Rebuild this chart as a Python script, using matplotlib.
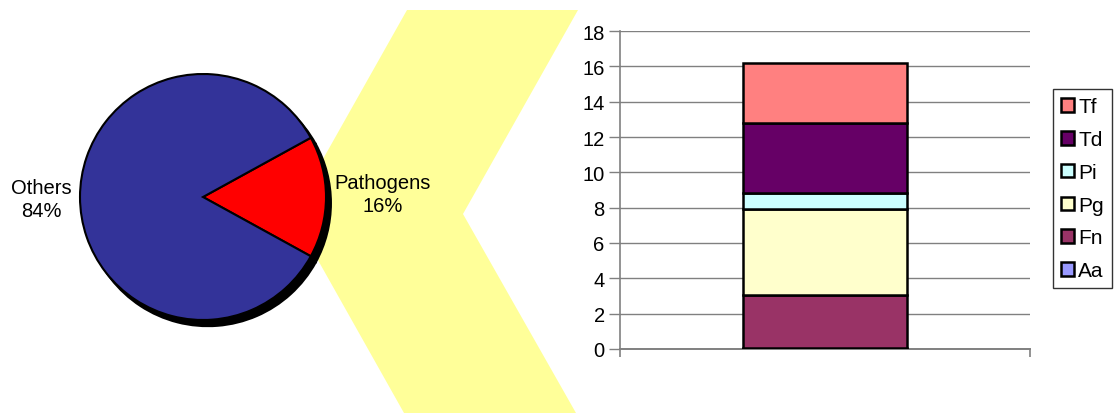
import matplotlib
matplotlib.use("Agg")
import matplotlib.pyplot as plt
from matplotlib.patches import Polygon, Patch

plt.rcParams['font.family'] = ['Liberation Sans', 'DejaVu Sans']

# ---- data ----
pie_labels = ["Pathogens", "Others"]
pie_values = [16, 84]
pie_colors = ["#FF0000", "#333399"]

species = ["Aa", "Fn", "Pg", "Pi", "Td", "Tf"]
species_values = [0.05, 3.0, 4.85, 0.95, 3.92, 3.42]
species_colors = ["#9999FF", "#993366", "#FFFFCC", "#CCFFFF", "#660066", "#FF8080"]
yticks = [0, 2, 4, 6, 8, 10, 12, 14, 16, 18]

W, H = 1117, 414
fig = plt.figure(figsize=(W / 100, H / 100), dpi=100)

# background axes in pixel coordinates (chevron + labels)
bg = fig.add_axes([0, 0, 1, 1])
bg.set_xlim(0, W)
bg.set_ylim(H, 0)
bg.axis('off')
chevron = Polygon([(407, 11), (578, 11), (463, 215), (576, 414), (404, 414), (292, 215)],
                  closed=True, facecolor="#FFFF99", edgecolor="none")
bg.add_patch(chevron)

# pie axes
cx, cy, r = 203, 198, 123
box = 150
pax = fig.add_axes([(cx - box) / W, (H - cy - box) / H, 2 * box / W, 2 * box / H])
pax.set_xlim(-box / r, box / r)
pax.set_ylim(-box / r, box / r)
pax.set_aspect('equal')
pax.axis('off')
start = -pie_values[0] / sum(pie_values) * 360 / 2
# shadow
pax.pie(pie_values, colors=["black"] * len(pie_values), startangle=start,
        center=(0.04, -0.05), radius=1.0,
        wedgeprops=dict(edgecolor="black", linewidth=1.5))
pax.pie(pie_values, colors=pie_colors, startangle=start, radius=1.0,
        wedgeprops=dict(edgecolor="black", linewidth=1.5))
pax.set_xlim(-box / r, box / r)
pax.set_ylim(-box / r, box / r)

# pie labels
label_pos = [(383, 195), (41, 200)]
for (lx, ly), lab, val in zip(label_pos, pie_labels, pie_values):
    bg.text(lx, ly, f"{lab}\n{val}%", ha="center", va="center", fontsize=14.5,
            linespacing=1.3, color="black")

# stacked bar axes
bax = fig.add_axes([620 / W, (H - 350) / H, 410 / W, 318 / H])
bottom = 0
handles = []
for name, val, col in zip(species, species_values, species_colors):
    bax.bar([0], [val], bottom=bottom, width=0.402, color=col, edgecolor="black",
            linewidth=1.8, zorder=3)
    bottom += val
    handles.append(Patch(facecolor=col, edgecolor="black", linewidth=1.8, label=name))
bax.set_xlim(-0.5, 0.5)
bax.set_ylim(0, 18)
bax.set_yticks(yticks)
bax.set_yticklabels([str(t) for t in yticks], fontsize=14.5)
bax.set_xticks([-0.5, 0.5])
bax.set_xticklabels(["", ""])
bax.tick_params(axis='y', direction='out', length=8, width=1, color="#808080", pad=3)
bax.tick_params(axis='x', direction='out', length=6, width=1.2, color="#808080")
bax.yaxis.grid(True, color="#808080", linewidth=1, zorder=0)
bax.set_axisbelow(True)
for s in ["top", "right"]:
    bax.spines[s].set_visible(False)
bax.spines["left"].set_color("#808080")
bax.spines["left"].set_linewidth(1.2)
bax.spines["bottom"].set_color("#808080")
bax.spines["bottom"].set_linewidth(1.4)
bax.patch.set_alpha(0)

leg = fig.legend(handles=handles[::-1], loc="upper left",
                 bbox_to_anchor=(1053 / W, 1 - 90 / H), borderaxespad=0,
                 fontsize=15, frameon=True, fancybox=False, edgecolor="black",
                 handlelength=0.62, handleheight=0.62, handletextpad=0.2,
                 labelspacing=0.66, borderpad=0.4)
leg.get_frame().set_linewidth(1)

fig.savefig("out.png", dpi=100)
